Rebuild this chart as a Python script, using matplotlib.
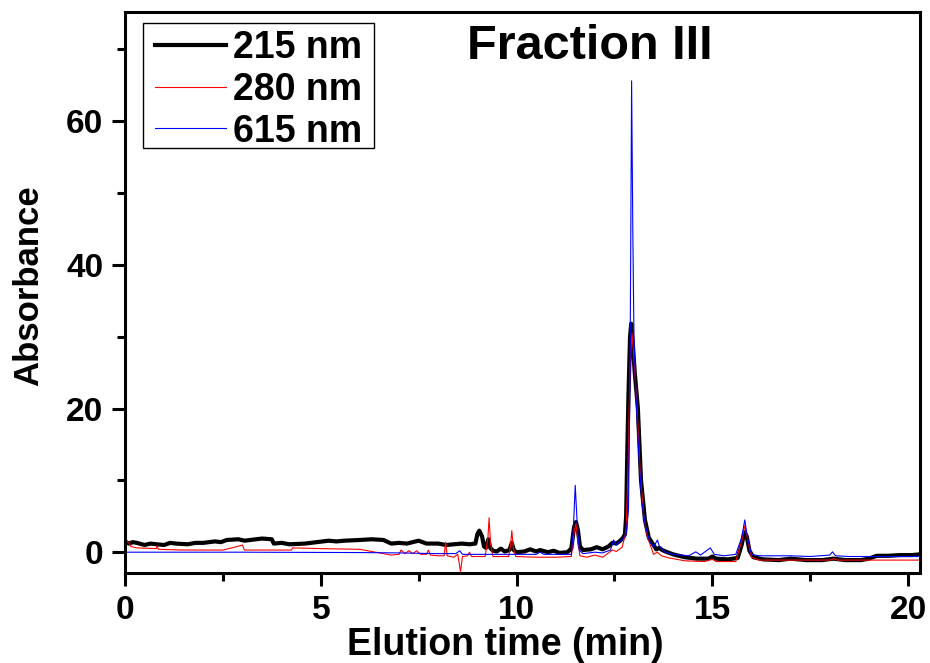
import matplotlib
matplotlib.use("Agg")
import matplotlib.pyplot as plt
from matplotlib.patches import Rectangle
from matplotlib.ticker import MultipleLocator

plt.rcParams['font.family'] = ['Liberation Sans', 'DejaVu Sans']
plt.rcParams['font.weight'] = 'bold'

# 215 nm trace (time in min, absorbance)
t_215 = [0.0, 0.1, 0.2, 0.3, 0.5, 0.65, 0.8, 1.0, 1.15, 1.3, 1.6, 1.8, 2.0, 2.3, 2.45, 2.6,
         2.9, 3.05, 3.2, 3.5, 3.75, 3.8, 4.0, 4.2, 4.6, 4.9, 5.2, 5.4, 5.6, 6.0, 6.3, 6.6,
         6.8, 7.0, 7.2, 7.5, 7.7, 8.0, 8.2, 8.4, 8.6, 8.8, 8.95,
         9.0, 9.05, 9.12, 9.17, 9.22, 9.28, 9.33, 9.4, 9.5, 9.6, 9.7, 9.82, 9.88, 9.93,
         10.0, 10.2, 10.35, 10.5, 10.6, 10.8, 10.95, 11.1, 11.3, 11.4, 11.47, 11.52, 11.57,
         11.62, 11.7, 11.9, 12.05, 12.2, 12.35, 12.45, 12.55, 12.65, 12.72, 12.77, 12.8,
         12.83, 12.86, 12.9, 12.93, 12.97, 13.02, 13.1, 13.18, 13.28, 13.38, 13.5, 13.57,
         13.65, 13.72, 13.85, 14.0, 14.3, 14.6, 14.9, 15.0, 15.1, 15.4, 15.65, 15.75, 15.82,
         15.88, 15.95, 16.05, 16.3, 16.7, 17.0, 17.4, 17.8, 18.1, 18.4, 18.8, 19.0, 19.2,
         19.5, 19.8, 20.1, 20.3]
a_215 = [1.5, 1.2, 1.4, 1.3, 1.0, 1.2, 1.1, 1.0, 1.3, 1.2, 1.1, 1.3, 1.3, 1.5, 1.4, 1.7,
         1.8, 1.6, 1.7, 1.9, 1.8, 1.2, 1.3, 1.1, 1.2, 1.4, 1.6, 1.5, 1.6, 1.7, 1.8, 1.7,
         1.2, 1.3, 1.2, 1.6, 1.2, 1.2, 1.0, 1.1, 1.2, 1.1, 1.2,
         2.5, 3.0, 2.2, 0.8, 0.6, 1.8, 0.6, 0.2, 0.1, 0.5, 0.1, 0.3, 1.3, 0.3,
         0.0, 0.1, 0.4, 0.1, 0.3, 0.0, 0.2, -0.1, 0.0, 0.5, 3.5, 4.2, 3.0,
         0.8, 0.3, 0.4, 0.7, 0.4, 0.8, 1.3, 1.2, 1.6, 2.0, 2.5, 5.0,
         14.0, 22.0, 30.0, 31.8, 29.0, 25.0, 20.0, 10.0, 4.5, 2.0, 1.0, 0.4,
         0.6, 0.3, 0.0, -0.3, -0.7, -0.9, -0.9, -0.6, -0.9, -1.0, -0.8, 1.0, 2.8,
         2.2, 0.2, -0.7, -1.0, -1.1, -0.9, -1.1, -1.1, -0.9, -1.1, -1.1, -0.9, -0.5,
         -0.5, -0.4, -0.4, -0.3]

# 280 nm trace
t_280 = [0.0, 0.05, 0.1, 0.15, 0.3, 0.8, 0.82, 0.85, 1.5, 2.5, 2.8, 3.0, 3.05, 3.5, 4.25,
         4.28, 5.0, 6.0, 6.4, 6.8, 7.0, 7.05, 7.15, 7.25, 7.35, 7.45, 7.55, 7.7, 7.75, 7.8,
         8.0, 8.15, 8.19, 8.23, 8.4, 8.5, 8.57, 8.62, 8.75, 8.8, 8.85, 9.0, 9.2, 9.27, 9.3,
         9.34, 9.4, 9.8, 9.85, 9.88, 9.92, 9.98, 10.5, 11.0, 11.4, 11.47, 11.52, 11.56,
         11.62, 11.8, 12.0, 12.2, 12.45, 12.55, 12.7, 12.8, 12.85, 12.9, 12.95, 13.0, 13.08,
         13.16, 13.25, 13.35, 13.45, 13.5, 13.6, 13.7, 13.9, 14.3, 14.8, 15.0, 15.1, 15.6,
         15.75, 15.83, 15.9, 16.0, 16.2, 18.0, 18.1, 18.2, 20.3]
a_280 = [1.0, 1.5, 1.3, 0.8, 0.6, 0.5, 0.9, 0.4, 0.3, 0.3, 0.7, 1.0, 0.3, 0.3, 0.3,
         0.6, 0.5, 0.4, 0.0, -0.4, -0.3, 0.3, -0.2, 0.2, -0.2, 0.2, -0.3, -0.3, 0.3, -0.4,
         -0.5, -0.5, 1.4, -0.5, -0.7, -0.3, -2.7, -0.6, -0.5, 0.0, -0.6, -0.6, -0.6, 2.0, 4.8,
         1.0, -0.6, -0.6, 1.0, 3.0, 0.5, -0.6, -0.7, -0.7, -0.6, 2.8, 4.0, 2.0,
         -0.5, -0.7, -0.4, -0.7, 0.3, 0.1, 0.7, 3.0, 12.0, 26.0, 30.5, 27.0, 20.0,
         11.0, 5.0, 2.0, 0.5, -0.3, 0.0, -0.5, -0.8, -1.2, -1.3, -1.0, -1.3, -1.3,
         1.5, 3.7, 1.8, -0.7, -1.1, -1.1, -0.9, -1.1, -1.1]

# 615 nm trace
t_615 = [0.0, 3.0, 6.0, 7.0, 8.0, 8.45, 8.55, 8.62, 9.0, 10.0, 10.5, 10.6, 10.7, 11.4,
         11.45, 11.5, 11.55, 11.6, 11.7, 12.0, 12.2, 12.4, 12.48, 12.55, 12.7, 12.8, 12.86,
         12.9, 12.94, 12.97, 13.0, 13.05, 13.12, 13.2, 13.3, 13.4, 13.5, 13.6, 13.65, 13.8,
         14.0, 14.4, 14.58, 14.7, 14.95, 15.05, 15.3, 15.6, 15.75, 15.83, 15.9, 16.0, 16.2,
         17.0, 17.5, 18.0, 18.07, 18.15, 18.5, 20.3]
a_615 = [0.0, 0.0, -0.05, -0.1, -0.2, -0.2, 0.2, -0.3, -0.3, -0.3, -0.3, 0.0, -0.3, -0.3,
         3.0, 9.3, 4.0, 0.3, -0.2, 0.0, -0.1, 0.3, 1.7, 1.0, 1.8, 2.5, 6.0,
         25.0, 65.6, 45.0, 30.0, 22.0, 14.0, 7.0, 3.5, 1.5, 0.7, 1.7, 0.8, 0.0,
         -0.3, -0.5, 0.05, -0.4, 0.6, -0.3, -0.5, -0.3, 2.0, 4.5, 2.0, -0.3, -0.5,
         -0.5, -0.6, -0.4, 0.05, -0.5, -0.6, -0.6]

labels = ['215 nm', '280 nm', '615 nm']

fig = plt.figure(figsize=(9.3, 6.63), dpi=100)
ax = fig.add_axes([0.1344, 0.1357, 0.8546, 0.8463])

ax.plot(t_215, a_215, color='black', lw=3.0, label=labels[0])
ax.plot(t_280, a_280, color='red', lw=0.8, label=labels[1])
ax.plot(t_615, a_615, color='blue', lw=0.8, label=labels[2])

ax.set_xlim(0, 20.3)
ax.set_ylim(-2.9, 75.2)

ax.xaxis.set_major_locator(MultipleLocator(5))
ax.xaxis.set_minor_locator(MultipleLocator(2.5))
ax.yaxis.set_major_locator(MultipleLocator(20))
ax.yaxis.set_minor_locator(MultipleLocator(10))

for s in ax.spines.values():
    s.set_linewidth(2.2)

ax.tick_params(which='major', direction='out', length=9.5, width=2.2,
               labelsize=24, pad=6)
ax.tick_params(which='minor', direction='out', length=5.5, width=2.2)
ax.tick_params(top=False, right=False, which='both')
for lab in ax.get_xticklabels() + ax.get_yticklabels():
    lab.set_fontweight('bold')

ax.set_xlabel('Elution time (min)', fontsize=27, fontweight='bold')
ax.set_ylabel('Absorbance', fontsize=25, fontweight='bold')
ax.xaxis.set_label_coords(0.478, -0.096)
ax.yaxis.set_label_coords(-0.100, 0.512)

ax.text(0.585, 0.938, 'Fraction III', transform=ax.transAxes, ha='center', va='center',
        fontsize=35, fontweight='bold')

# legend frame drawn as a plain box, entries placed inside it
ax.add_patch(Rectangle((0.0226, 0.7576), 0.2906, 0.2228, transform=ax.transAxes,
                       facecolor='white', edgecolor='black', lw=1.0, zorder=4))
leg = ax.legend(loc='upper left', bbox_to_anchor=(0.0377, 0.968), fontsize=27,
                frameon=False, handlelength=1.9, handletextpad=0.19,
                labelspacing=0.155, borderpad=0, borderaxespad=0)
leg.set_zorder(5)
for txt in leg.get_texts():
    txt.set_fontweight('bold')

fig.savefig('out.png', dpi=100)
